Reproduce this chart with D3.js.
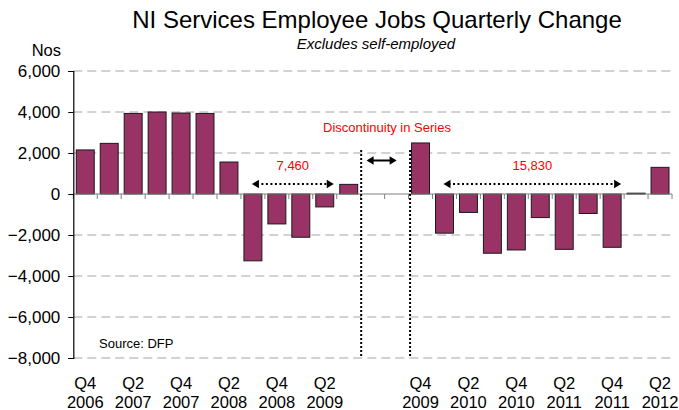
<!DOCTYPE html>
<html>
<head>
<meta charset="utf-8">
<script src="https://cdn.jsdelivr.net/npm/d3@7"></script>
<style>
  html, body { margin: 0; padding: 0; background: #fff; }
  svg { display: block; font-family: "Liberation Sans", Arial, sans-serif; }
</style>
</head>
<body>
<svg id="chart" width="679" height="410"></svg>
<script>
// ---- data ----
const quarters = ["Q4 2006","Q1 2007","Q2 2007","Q3 2007","Q4 2007","Q1 2008","Q2 2008","Q3 2008","Q4 2008","Q1 2009","Q2 2009","Q3 2009",
  "gap 1","gap 2",
  "Q4 2009","Q1 2010","Q2 2010","Q3 2010","Q4 2010","Q1 2011","Q2 2011","Q3 2011","Q4 2011","Q1 2012","Q2 2012"];
const jobsChange = [2150, 2470, 3930, 4000, 3950, 3930, 1560, -3260, -1460, -2110, -630, 470,
  null, null,
  2490, -1910, -900, -2890, -2730, -1150, -2700, -950, -2600, 40, 1300];
const xTickQuarters = ["Q4 2006","Q2 2007","Q4 2007","Q2 2008","Q4 2008","Q2 2009","Q4 2009","Q2 2010","Q4 2010","Q2 2011","Q4 2011","Q2 2012"];
const xTickLine1 = ["Q4","Q2","Q4","Q2","Q4","Q2","Q4","Q2","Q4","Q2","Q4","Q2"];
const xTickLine2 = ["2006","2007","2007","2008","2008","2009","2009","2010","2010","2011","2011","2012"];
const yTicks = [-8000, -6000, -4000, -2000, 0, 2000, 4000, 6000];
const spanAnnotations = [
  { label: "7,460", from: "Q3 2008", to: "Q2 2009" },
  { label: "15,830", from: "Q1 2010", to: "Q4 2011" }
];
const gapStart = "gap 1", gapEnd = "Q4 2009";
const titleText = "NI Services Employee Jobs Quarterly Change";
const subtitleText = "Excludes self-employed";
const yAxisLabel = "Nos";
const noteText = "Discontinuity in Series";
const sourceText = "Source: DFP";

// ---- chart ----
const svg = d3.select("#chart");
const plotLeft = 73.3, plotRight = 672, plotTop = 71, plotBottom = 358;

const x = d3.scaleBand().domain(quarters).range([plotLeft, plotRight]).paddingInner(0.25).paddingOuter(0.125);
const y = d3.scaleLinear().domain([-8000, 6000]).range([plotBottom, plotTop]);
const step = x.step();
const boundary = q => x(q) - step * 0.125;
const center = q => x(q) + x.bandwidth() / 2;
const fmt = d3.format(",");

// gridlines
svg.append("g").selectAll("line").data(yTicks.filter(t => t !== 0)).join("line")
  .attr("x1", plotLeft).attr("x2", plotRight)
  .attr("y1", d => y(d)).attr("y2", d => y(d))
  .attr("stroke", "#a6a6a6").attr("stroke-width", 1).attr("stroke-dasharray", "9,5");

// bars
svg.append("g").selectAll("rect").data(quarters.map((q, i) => ({ q, v: jobsChange[i] })).filter(d => d.v !== null)).join("rect")
  .attr("x", d => x(d.q))
  .attr("width", x.bandwidth())
  .attr("y", d => y(Math.max(0, d.v)))
  .attr("height", d => Math.abs(y(d.v) - y(0)))
  .attr("fill", "#993366")
  .attr("stroke", "#1a1a1a")
  .attr("stroke-width", 1);

// zero axis line with category ticks
const zeroG = svg.append("g");
zeroG.append("line").attr("x1", plotLeft).attr("x2", plotRight).attr("y1", y(0)).attr("y2", y(0))
  .attr("stroke", "#808080").attr("stroke-width", 1.2);
zeroG.selectAll("line.tk").data(quarters.map(boundary).concat([plotRight])).join("line").attr("class", "tk")
  .attr("x1", d => d).attr("x2", d => d)
  .attr("y1", y(0)).attr("y2", y(0) + 5)
  .attr("stroke", "#808080").attr("stroke-width", 1);

// y axis
const yAxis = d3.axisLeft(y).tickValues(yTicks).tickSize(5).tickPadding(8).tickFormat(fmt);
const yg = svg.append("g").attr("transform", `translate(${plotLeft},0)`).call(yAxis);
yg.select(".domain").attr("stroke", "#000").attr("stroke-width", 1.2);
yg.selectAll(".tick line").attr("stroke", "#000");
yg.selectAll(".tick text").attr("font-size", 17).attr("fill", "#000")
  .attr("font-family", "Liberation Sans, Arial, sans-serif").attr("dy", "0.33em");

// x labels
const xg = svg.append("g");
xg.selectAll("text.l1").data(xTickQuarters).join("text").attr("class", "l1")
  .attr("x", d => center(d)).attr("y", 389).attr("text-anchor", "middle")
  .attr("font-size", 16.5).text((d, i) => xTickLine1[i]);
xg.selectAll("text.l2").data(xTickQuarters).join("text").attr("class", "l2")
  .attr("x", d => center(d)).attr("y", 408).attr("text-anchor", "middle")
  .attr("font-size", 16.5).text((d, i) => xTickLine2[i]);

// discontinuity dotted lines
const dx1 = boundary(gapStart) + 0.5, dx2 = boundary(gapEnd) + 1.5;
[dx1, dx2].forEach(xx => {
  svg.append("line").attr("x1", xx).attr("x2", xx).attr("y1", y(2150)).attr("y2", y(-7900))
    .attr("stroke", "#000").attr("stroke-width", 2).attr("stroke-dasharray", "2,2");
});

function arrowHead(g, xTip, yy, dir, size) {
  const L = size, H = size * 0.6;
  g.append("path")
    .attr("d", `M${xTip},${yy} L${xTip - dir * L},${yy - H} L${xTip - dir * L},${yy + H} Z`)
    .attr("fill", "#000");
}

// solid double arrow between the dotted lines
const gapMid = boundary("gap 2") - 2;
const arrowY = 160.5;
const ag = svg.append("g");
ag.append("line").attr("x1", gapMid - 14).attr("x2", gapMid + 12).attr("y1", arrowY).attr("y2", arrowY)
  .attr("stroke", "#000").attr("stroke-width", 2);
arrowHead(ag, gapMid - 16, arrowY, -1, 7);
arrowHead(ag, gapMid + 14, arrowY, 1, 7);

// span annotations
spanAnnotations.forEach(a => {
  const x1 = center(a.from) - 1, x2 = center(a.to) + 9;
  const yy = 184;
  const g = svg.append("g");
  g.append("line").attr("x1", x1 + 5).attr("x2", x2 - 5).attr("y1", yy).attr("y2", yy)
    .attr("stroke", "#000").attr("stroke-width", 2).attr("stroke-dasharray", "2,2.5");
  arrowHead(g, x1, yy, -1, 7);
  arrowHead(g, x2, yy, 1, 7);
  g.append("text").attr("x", (x1 + x2) / 2).attr("y", 170).attr("text-anchor", "middle")
    .attr("font-size", 13).attr("fill", "#ff0000").text(a.label);
});

// texts
svg.append("text").attr("x", 377).attr("y", 28).attr("text-anchor", "middle")
  .attr("font-size", 24).attr("fill", "#000").text(titleText);
svg.append("text").attr("x", 376).attr("y", 49).attr("text-anchor", "middle")
  .attr("font-size", 15).attr("font-style", "italic").attr("fill", "#000").text(subtitleText);
svg.append("text").attr("x", 61).attr("y", 56).attr("text-anchor", "end")
  .attr("font-size", 16.5).attr("fill", "#000").text(yAxisLabel);
svg.append("text").attr("x", 387).attr("y", 132).attr("text-anchor", "middle")
  .attr("font-size", 13).attr("fill", "#ff0000").text(noteText);
svg.append("text").attr("x", 99).attr("y", 348)
  .attr("font-size", 13).attr("fill", "#000").text(sourceText);
</script>
</body>
</html>
